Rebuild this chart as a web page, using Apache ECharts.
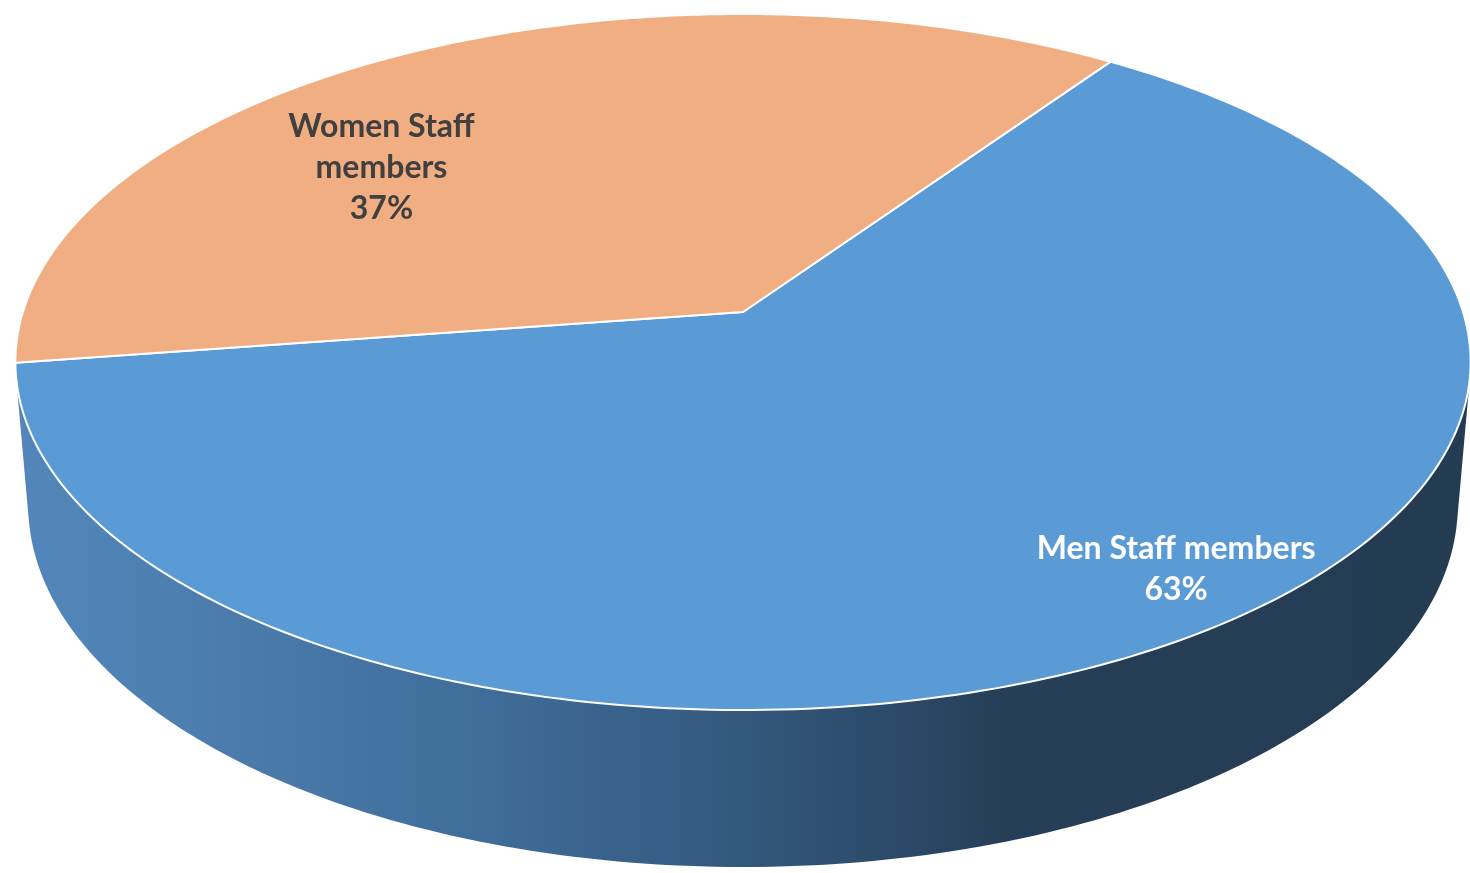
<!DOCTYPE html>
<html>
<head>
<meta charset="utf-8">
<script src="https://cdn.jsdelivr.net/npm/echarts@6/dist/echarts.min.js"></script>
<style>
  html, body { margin: 0; padding: 0; background: #ffffff; }
  #chart { width: 1470px; height: 873px; }
</style>
</head>
<body>
<div id="chart"></div>
<script>
// ---- data ----
const categories = ['Men Staff members', 'Women Staff members'];
const values = [63, 37];
const percentLabels = ['63%', '37%'];

// ---- style ----
const topColors = ['#5B9BD5', '#F0AE82'];
const labelColors = ['#ffffff', '#404040'];
const labelAngleShift = [6.8, 18.0];   // degrees added to slice mid-angle
const labelRadius = [0.87, 0.70];
const VIEW = { cx: 743, cy: 312, F: 4414, D: 6.13, elevDeg: 28.25, H: 0.2273, startAngle: 55.2 };

const s = Math.sin(VIEW.elevDeg * Math.PI / 180);
const c = Math.cos(VIEW.elevDeg * Math.PI / 180);

function project(u, v, w) {
  const z = VIEW.D + v * c - w * s;
  return [VIEW.cx + VIEW.F * u / z, VIEW.cy - VIEW.F * (v * s + w * c) / z];
}
function rim(deg, w, r) {
  const a = deg * Math.PI / 180;
  r = r == null ? 1 : r;
  return project(r * Math.cos(a), r * Math.sin(a), w);
}
function arc(from, to, w, n) {
  const pts = [];
  for (let i = 0; i <= n; i++) pts.push(rim(from + (to - from) * i / n, w));
  return pts;
}

const total = values.reduce((a, b) => a + b, 0);
const sil = Math.asin(-1 / (VIEW.D * c)) * 180 / Math.PI; // negative
const silLo = 180 - sil;
const silHi = 360 + sil;

function sliceAngles(i) {
  let before = 0;
  for (let k = 0; k < i; k++) before += values[k];
  const a0 = VIEW.startAngle - before / total * 360;
  const a1 = a0 - values[i] / total * 360;
  return [a1, a0];
}

const sideGradient = new echarts.graphic.LinearGradient(0, 0, 1, 0, [
  { offset: 0, color: '#5387bb' },
  { offset: 0.3, color: '#416f9c' },
  { offset: 0.5, color: '#33587e' },
  { offset: 0.68, color: '#263f58' },
  { offset: 1, color: '#243c52' }
]);

function renderItem(params, api) {
  const i = params.dataIndex;
  const [a1, a0] = sliceAngles(i);
  const children = [];
  for (let k = -2; k <= 1; k++) {
    const lo = Math.max(a1, silLo + 360 * k);
    const hi = Math.min(a0, silHi + 360 * k);
    if (lo < hi) {
      const top = arc(lo, hi, 0, 160);
      const bot = arc(hi, lo, -VIEW.H, 160);
      children.push({
        type: 'polygon', z2: 1,
        shape: { points: top.concat(bot) },
        style: { fill: sideGradient, stroke: null }
      });
    }
  }
  const topPts = [project(0, 0, 0)].concat(arc(a0, a1, 0, 240));
  children.push({
    type: 'polygon', z2: 10,
    shape: { points: topPts },
    style: { fill: topColors[i], stroke: '#ffffff', lineWidth: 2, lineJoin: 'round' }
  });
  const mid = (a0 + a1) / 2 + labelAngleShift[i];
  const p = rim(mid, 0, labelRadius[i]);
  const name = i === 1 ? 'Women Staff\nmembers' : categories[i];
  children.push({
    type: 'text', z2: 20,
    style: {
      text: name + '\n' + percentLabels[i],
      x: p[0], y: p[1],
      align: 'center', verticalAlign: 'middle',
      fill: labelColors[i],
      fontFamily: 'Lato', fontWeight: 'bold', fontSize: 32, lineHeight: 41
    }
  });
  return { type: 'group', children };
}

const chart = echarts.init(document.getElementById('chart'), null, { renderer: 'canvas' });
chart.setOption({
  animation: false,
  backgroundColor: '#ffffff',
  series: [{
    type: 'custom',
    coordinateSystem: 'none',
    renderItem: renderItem,
    data: values.map((v, i) => ({ name: categories[i], value: v }))
  }]
});
</script>
</body>
</html>
